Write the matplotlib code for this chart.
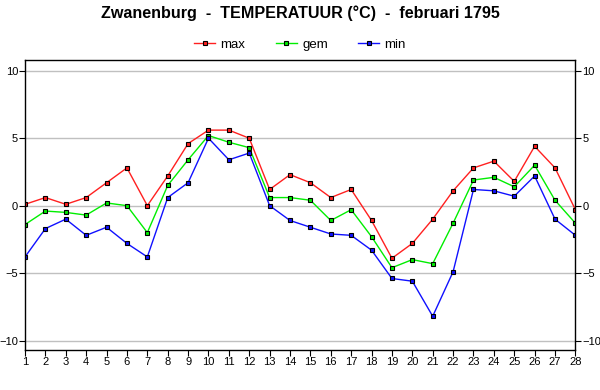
import numpy as np
import matplotlib
matplotlib.use("Agg")
import matplotlib.pyplot as plt

plt.rcParams["font.family"] = ["Liberation Sans", "DejaVu Sans"]

days = list(range(1, 29))
t_max = [0.1, 0.6, 0.1, 0.6, 1.7, 2.8, 0.0, 2.2, 4.6, 5.6, 5.6, 5.0, 1.2, 2.3,
         1.7, 0.6, 1.2, -1.1, -3.9, -2.8, -1.0, 1.1, 2.8, 3.3, 1.8, 4.4, 2.8, -0.3]
t_gem = [-1.4, -0.4, -0.5, -0.7, 0.2, 0.0, -2.0, 1.5, 3.4, 5.2, 4.7, 4.3, 0.6, 0.6,
         0.4, -1.1, -0.3, -2.3, -4.6, -4.0, -4.3, -1.3, 1.9, 2.1, 1.4, 3.0, 0.4, -1.3]
t_min = [-3.8, -1.7, -1.0, -2.2, -1.6, -2.8, -3.8, 0.6, 1.7, 5.0, 3.4, 3.9, 0.0, -1.1,
         -1.6, -2.1, -2.2, -3.3, -5.4, -5.6, -8.2, -4.9, 1.2, 1.1, 0.7, 2.2, -1.0, -2.2]
series = [("max", t_max, "#ff2020"), ("gem", t_gem, "#00ee00"), ("min", t_min, "#1010ff")]
yticks = [-10, -5, 0, 5, 10]

fig = plt.figure(figsize=(6.0, 3.9), dpi=100)
ax = fig.add_axes([0.0417, 0.1026, 0.9173, 0.7436])

for label, vals, col in series:
    ax.plot(days, vals, "-", color=col, lw=1.0, marker="s", markersize=3.2,
            markerfacecolor=col, markeredgecolor="black", markeredgewidth=0.8,
            label=label)

ax.set_xlim(1, 28)
ax.set_ylim(-10.7, 10.8)
ax.set_xticks(days)
ax.set_yticks(yticks)
ax.yaxis.grid(True, color="#c0c0c0", lw=1.0)
ax.set_axisbelow(True)
ax.tick_params(axis="both", labelsize=8, length=4, width=0.8, pad=1,
               direction="out")
ax.tick_params(axis="y", right=True, labelright=True)
for sp in ax.spines.values():
    sp.set_linewidth(1.0)

fig.suptitle("Zwanenburg  -  TEMPERATUUR (°C)  -  februari 1795",
             fontsize=11.6, fontweight="bold", y=0.985)
fig.legend(loc="center", bbox_to_anchor=(0.5, 0.885), ncol=3, frameon=False,
           fontsize=9.5, handlelength=1.6, columnspacing=2.3, handletextpad=0.4)

fig.savefig("out.png", dpi=100)
